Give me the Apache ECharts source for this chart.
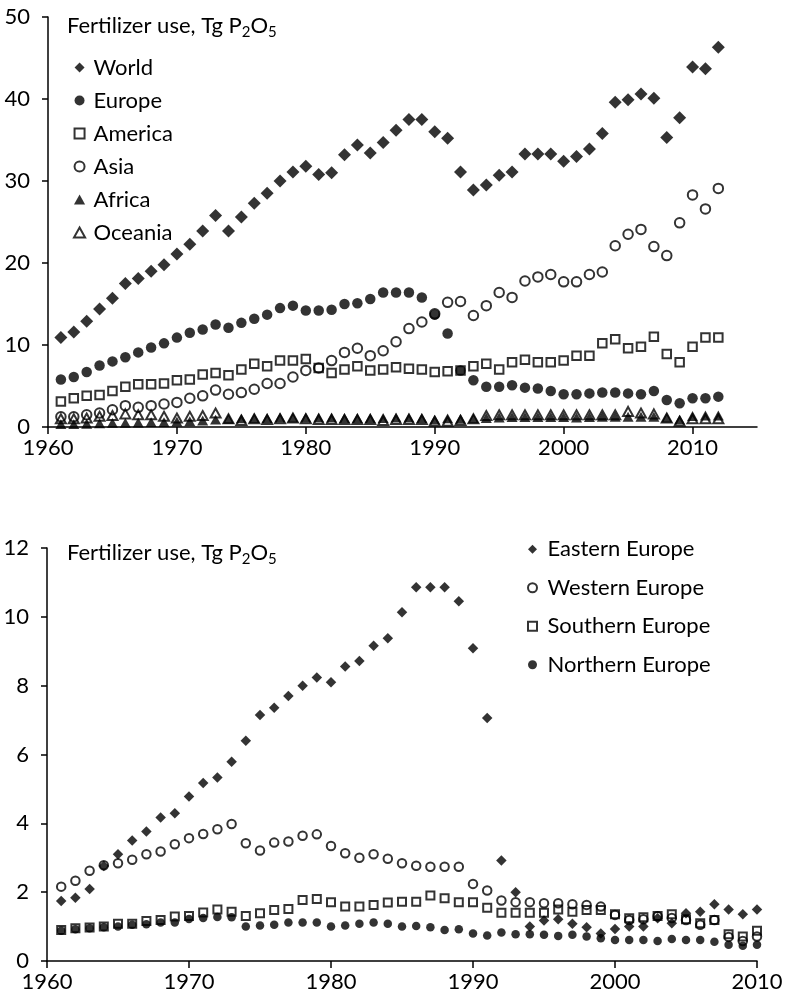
<!DOCTYPE html>
<html>
<head>
<meta charset="utf-8">
<script src="https://cdn.jsdelivr.net/npm/echarts@6/dist/echarts.min.js"></script>
<style>
html,body{margin:0;padding:0;background:#fff;}
#chart{width:786px;height:998px;}
</style>
</head>
<body>
<div id="chart"></div>
<script>
// ---------- Top panel: world regions (1961-2012) ----------
var yearsTop = [1961,1962,1963,1964,1965,1966,1967,1968,1969,1970,1971,1972,1973,1974,1975,1976,1977,1978,1979,1980,
  1981,1982,1983,1984,1985,1986,1987,1988,1989,1990,1991,1992,1993,1994,1995,1996,1997,1998,1999,2000,
  2001,2002,2003,2004,2005,2006,2007,2008,2009,2010,2011,2012];
var world = [10.9,11.6,12.9,14.4,15.7,17.5,18.1,19.0,19.8,21.1,22.3,23.9,25.8,23.9,25.6,27.3,28.5,30.0,31.1,31.8,
  30.8,31.0,33.2,34.4,33.4,34.7,36.2,37.5,37.5,36.0,35.2,31.1,28.9,29.5,30.7,31.1,33.3,33.3,33.3,32.4,
  33.0,33.9,35.8,39.6,39.9,40.6,40.1,35.3,37.7,43.9,43.7,46.3];
var europe = [5.8,6.1,6.7,7.5,8.0,8.5,9.1,9.7,10.2,10.9,11.5,11.9,12.5,12.1,12.7,13.2,13.7,14.5,14.8,14.2,
  14.2,14.3,15.0,15.1,15.6,16.4,16.4,16.4,15.8,13.7,11.4,6.9,5.7,4.9,4.9,5.1,4.8,4.7,4.4,4.0,
  4.0,4.1,4.2,4.2,4.1,4.0,4.4,3.3,2.9,3.5,3.5,3.7];
var america = [3.1,3.5,3.8,3.9,4.4,4.9,5.2,5.2,5.3,5.7,5.8,6.4,6.6,6.3,7.0,7.7,7.4,8.1,8.1,8.3,
  7.2,6.6,7.0,7.4,6.9,7.0,7.3,7.1,7.0,6.7,6.8,6.9,7.4,7.7,7.0,7.9,8.2,7.9,7.9,8.1,
  8.7,8.7,10.2,10.7,9.6,9.8,11.0,8.9,7.9,9.8,10.9,10.9];
var asia = [1.25,1.25,1.5,1.7,2.1,2.6,2.4,2.6,2.8,3.0,3.5,3.8,4.5,4.0,4.2,4.6,5.3,5.3,6.1,6.9,
  7.2,8.1,9.1,9.6,8.7,9.3,10.4,12.0,12.8,13.8,15.2,15.3,13.6,14.8,16.4,15.8,17.8,18.3,18.6,17.7,
  17.7,18.6,18.9,22.1,23.5,24.1,22.0,20.9,24.9,28.3,26.6,29.1];
var africa = [0.35,0.35,0.4,0.45,0.5,0.5,0.55,0.6,0.6,0.65,0.7,0.8,0.9,1.0,1.05,1.1,1.1,1.15,1.15,1.15,
  1.15,1.15,1.1,1.1,1.1,1.1,1.15,1.15,1.1,0.9,1.05,1.0,1.05,1.1,1.15,1.2,1.2,1.2,1.2,1.2,
  1.15,1.2,1.25,1.25,1.25,1.25,1.25,1.15,0.9,1.35,1.4,1.4];
var oceania = [1.0,1.0,1.1,1.3,1.4,1.6,1.5,1.5,1.3,1.1,1.3,1.4,1.7,1.0,0.8,1.0,0.9,1.0,1.1,1.0,
  0.9,0.9,0.9,0.9,0.9,0.8,0.9,0.9,0.9,0.7,0.7,0.8,1.0,1.4,1.5,1.5,1.5,1.5,1.5,1.5,
  1.5,1.5,1.5,1.5,1.9,1.7,1.6,1.1,0.7,1.0,1.0,1.0];
var topXTicks = [1960,1970,1980,1990,2000,2010];
var topYTicks = [0,10,20,30,40,50];

// ---------- Bottom panel: European regions (1961-2010) ----------
var yearsBottom = [1961,1962,1963,1964,1965,1966,1967,1968,1969,1970,1971,1972,1973,1974,1975,1976,1977,1978,1979,1980,
  1981,1982,1983,1984,1985,1986,1987,1988,1989,1990,1991,1992,1993,1994,1995,1996,1997,1998,1999,2000,
  2001,2002,2003,2004,2005,2006,2007,2008,2009,2010];
var eastern = [1.74,1.84,2.09,2.76,3.10,3.50,3.76,4.17,4.29,4.78,5.17,5.33,5.79,6.40,7.15,7.36,7.70,8.00,8.24,8.10,
  8.56,8.72,9.16,9.38,10.13,10.86,10.86,10.86,10.45,9.09,7.06,2.92,2.0,1.0,1.18,1.21,1.08,0.98,0.80,0.93,
  1.0,1.0,1.24,1.1,1.39,1.43,1.65,1.50,1.36,1.50];
var western = [2.16,2.33,2.62,2.78,2.84,2.94,3.10,3.18,3.39,3.57,3.69,3.83,3.98,3.42,3.21,3.44,3.47,3.64,3.68,3.34,
  3.13,3.00,3.10,2.97,2.84,2.77,2.74,2.74,2.74,2.24,2.05,1.76,1.71,1.71,1.68,1.68,1.65,1.63,1.58,1.34,
  1.19,1.21,1.30,1.25,1.19,1.05,1.19,0.70,0.58,0.71];
var southern = [0.90,0.95,0.97,1.0,1.08,1.08,1.16,1.19,1.29,1.31,1.41,1.50,1.43,1.31,1.39,1.48,1.51,1.77,1.80,1.71,
  1.58,1.58,1.63,1.70,1.72,1.72,1.90,1.82,1.71,1.71,1.55,1.40,1.40,1.40,1.40,1.50,1.43,1.48,1.48,1.36,
  1.24,1.27,1.31,1.36,1.21,1.10,1.19,0.78,0.71,0.88];
var northern = [0.88,0.92,0.95,0.98,1.0,1.05,1.07,1.12,1.12,1.22,1.25,1.28,1.27,1.0,1.03,1.05,1.12,1.12,1.12,1.0,
  1.03,1.08,1.12,1.08,1.0,1.02,0.98,0.90,0.92,0.80,0.74,0.83,0.78,0.78,0.76,0.73,0.76,0.71,0.66,0.61,
  0.61,0.61,0.58,0.64,0.61,0.61,0.56,0.47,0.44,0.47];
var bottomXTicks = [1960,1970,1980,1990,2000,2010];
var bottomYTicks = [0,2,4,6,8,10,12];

// ---------- build ----------
function pairs(xs, ys){ return xs.map(function(x,i){ return [x, ys[i]]; }); }
var FONT = 'Lato, "Open Sans", sans-serif';
var DIAMOND = 'path://M5,0L10,5L5,10L0,5Z';
var TRIANGLE = 'path://M5,0L10,9L0,9Z';
var SQUARE = 'path://M0,0L10,0L10,10L0,10Z';
var filled = {color:'#000', borderWidth:0};
var hollow = {color:'rgba(0,0,0,0)', borderColor:'#000', borderWidth:2};

function sc(name, xi, data, symbol, size, style){
  return {type:'scatter', name:name, xAxisIndex:xi, yAxisIndex:xi, data:data,
    symbol:symbol, symbolSize:size, symbolKeepAspect:true, itemStyle:style, silent:true, animation:false};
}
function plain(v){ return String(v); }

function xAxisDef(gi, min, max, ticks){
  return {type:'value', gridIndex:gi, min:min, max:max, interval:10,
    axisLine:{show:true, onZero:false, lineStyle:{color:'#000', width:1.5}},
    axisTick:{show:true, length:7, customValues:ticks, lineStyle:{color:'#000', width:1.5}},
    axisLabel:{show:true, customValues:ticks, formatter:plain, margin:10, fontSize:22, fontFamily:FONT, color:'#000'},
    splitLine:{show:false}};
}
function yAxisDef(gi, min, max, interval, ticks){
  return {type:'value', gridIndex:gi, min:min, max:max, interval:interval,
    axisLine:{show:true, lineStyle:{color:'#000', width:1.5}},
    axisTick:{show:true, length:6, customValues:ticks, lineStyle:{color:'#000', width:1.5}},
    axisLabel:{show:true, customValues:ticks, formatter:plain, margin:18, fontSize:22, fontFamily:FONT, color:'#000'},
    splitLine:{show:false}};
}

var titleRich = {
  a:{fontSize:22, fontFamily:FONT, fontWeight:'normal', color:'#000', lineHeight:28, verticalAlign:'middle'},
  s:{fontSize:15, fontFamily:FONT, fontWeight:'normal', color:'#000', lineHeight:15, verticalAlign:'bottom'}
};
var titleText = '{a|Fertilizer use, Tg P}{s|2}{a|O}{s|5}';

var option = {
  backgroundColor:'#fff',
  animation:false,
  title:[
    {text:titleText, left:62, top:7, padding:5, textStyle:{fontWeight:'normal', rich:titleRich}},
    {text:titleText, left:62, top:534, padding:5, textStyle:{fontWeight:'normal', rich:titleRich}}
  ],
  legend:[
    {data:['World','Europe','America','Asia','Africa','Oceania'], orient:'vertical',
     left:68, top:46, itemWidth:18, itemHeight:10, itemGap:0, selectedMode:false, symbolKeepAspect:true,
     textStyle:{fontSize:22, fontFamily:FONT, color:'#000', lineHeight:33}},
    {data:['Eastern Europe','Western Europe','Southern Europe','Northern Europe'], orient:'vertical',
     left:522, top:525, itemWidth:20, itemHeight:9, itemGap:0, selectedMode:false, symbolKeepAspect:true,
     textStyle:{fontSize:22, fontFamily:FONT, color:'#000', lineHeight:38.5}}
  ],
  grid:[
    {left:48, top:17, width:709, height:410},
    {left:47, top:548, width:710, height:413}
  ],
  xAxis:[ xAxisDef(0,1960,2015,topXTicks), xAxisDef(1,1960,2010,bottomXTicks) ],
  yAxis:[ yAxisDef(0,0,50,10,topYTicks), yAxisDef(1,0,12,2,bottomYTicks) ],
  series:[
    sc('World',0,pairs(yearsTop,world),DIAMOND,13,filled),
    sc('Europe',0,pairs(yearsTop,europe),'circle',10.5,filled),
    sc('America',0,pairs(yearsTop,america),SQUARE,8.5,hollow),
    sc('Asia',0,pairs(yearsTop,asia),'circle',9.5,hollow),
    sc('Africa',0,pairs(yearsTop,africa),TRIANGLE,11,filled),
    sc('Oceania',0,pairs(yearsTop,oceania),TRIANGLE,10,hollow),
    sc('Eastern Europe',1,pairs(yearsBottom,eastern),DIAMOND,10.5,filled),
    sc('Western Europe',1,pairs(yearsBottom,western),'circle',8.5,hollow),
    sc('Southern Europe',1,pairs(yearsBottom,southern),SQUARE,8,hollow),
    sc('Northern Europe',1,pairs(yearsBottom,northern),'circle',8.5,filled)
  ]
};
var chart = echarts.init(document.getElementById('chart'), null, {renderer:'canvas'});
chart.setOption(option);
</script>
</body>
</html>
